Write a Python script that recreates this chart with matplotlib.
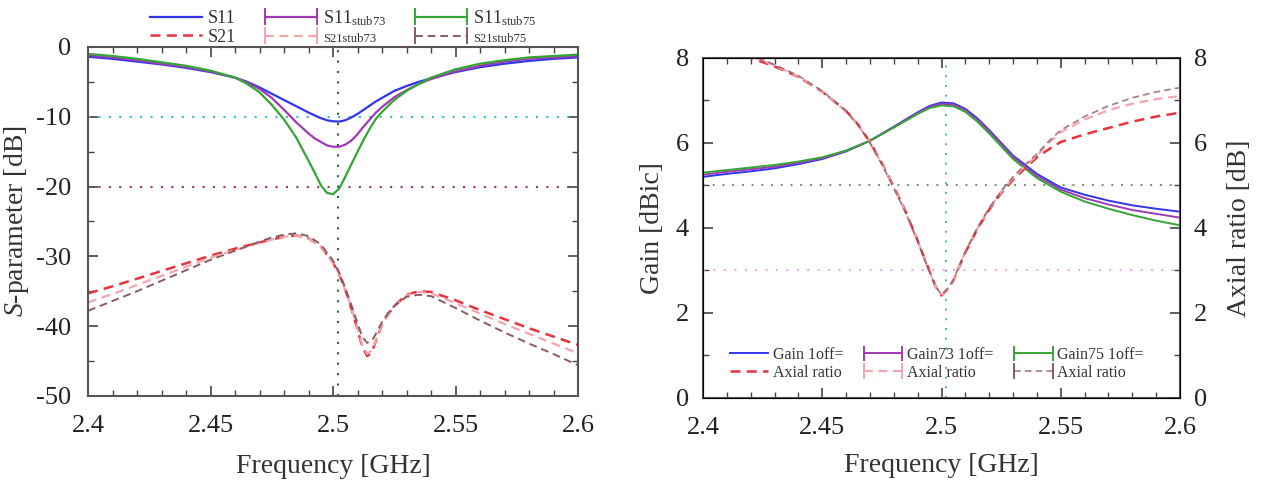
import numpy as np
import matplotlib
matplotlib.use('Agg')
import matplotlib.pyplot as plt
from matplotlib.lines import Line2D
from matplotlib.legend_handler import HandlerLine2D

plt.rcParams['font.family'] = ['Liberation Serif', 'DejaVu Serif']
plt.rcParams['mathtext.fontset'] = 'custom'
plt.rcParams['mathtext.rm'] = 'Liberation Serif'
plt.rcParams['mathtext.it'] = 'Liberation Serif:italic'
plt.rcParams['axes.unicode_minus'] = False

# ---- data ----
f_s11 = [2.40, 2.41, 2.42, 2.43, 2.44, 2.45, 2.46, 2.465, 2.47, 2.475, 2.48, 2.485,
         2.49, 2.4925, 2.495, 2.4975, 2.50, 2.5025, 2.505, 2.5075, 2.51, 2.5125,
         2.515, 2.5175, 2.52, 2.525, 2.53, 2.535, 2.54, 2.55, 2.56, 2.57, 2.58,
         2.59, 2.60]
s11 = [-1.4, -1.7, -2.1, -2.5, -3.0, -3.6, -4.4, -5.0, -5.8, -6.7, -7.6, -8.5,
       -9.4, -9.8, -10.2, -10.5, -10.65, -10.7, -10.5, -10.1, -9.6, -9.0,
       -8.4, -7.8, -7.3, -6.3, -5.6, -5.0, -4.5, -3.6, -2.9, -2.4, -2.0,
       -1.7, -1.5]
s11_stub73 = [-1.2, -1.5, -1.9, -2.4, -2.9, -3.5, -4.4, -5.1, -6.0, -7.3, -9.0, -10.8,
              -12.4, -13.1, -13.6, -14.1, -14.3, -14.3, -14.0, -13.4, -12.5, -11.4,
              -10.4, -9.4, -8.6, -7.2, -6.2, -5.3, -4.6, -3.5, -2.7, -2.1, -1.7,
              -1.5, -1.3]
s11_stub75 = [-1.0, -1.3, -1.7, -2.2, -2.7, -3.4, -4.4, -5.3, -6.5, -8.3, -10.4, -13.0,
              -16.3, -18.0, -19.8, -20.9, -21.1, -20.3, -18.6, -16.8, -15.0, -13.3,
              -11.7, -10.3, -9.3, -7.6, -6.3, -5.3, -4.4, -3.2, -2.4, -1.9, -1.5,
              -1.3, -1.1]

f_s21 = [2.40, 2.41, 2.42, 2.43, 2.44, 2.45, 2.46, 2.47, 2.475, 2.48, 2.485, 2.49,
         2.495, 2.50, 2.5025, 2.505, 2.5075, 2.51, 2.512, 2.514, 2.516, 2.518,
         2.52, 2.5225, 2.525, 2.53, 2.535, 2.54, 2.55, 2.56, 2.57, 2.58, 2.59, 2.60]
s21 = [-35.3, -34.3, -33.2, -32.1, -31.0, -29.9, -28.9, -28.0, -27.6, -27.2, -27.0, -27.4,
       -28.6, -30.9, -32.6, -34.8, -37.5, -40.5, -43.0, -44.3, -43.6, -41.6,
       -39.8, -38.3, -37.1, -35.5, -35.0, -35.1, -36.3, -37.7, -39.0, -40.3, -41.5, -42.7]
s21_stub73 = [-36.6, -35.4, -34.1, -32.8, -31.5, -30.2, -29.1, -28.1, -27.6, -27.2, -27.0, -27.4,
              -28.6, -30.9, -32.6, -34.8, -37.4, -40.3, -42.8, -44.0, -43.4, -41.5,
              -39.8, -38.3, -37.2, -35.6, -35.1, -35.3, -36.7, -38.2, -39.7, -41.1, -42.5, -43.9]
s21_stub75 = [-37.8, -36.4, -35.0, -33.5, -32.0, -30.5, -29.2, -27.9, -27.3, -26.9, -26.7, -27.1,
              -28.3, -30.6, -32.3, -34.5, -37.0, -39.6, -41.6, -42.4, -42.0, -40.8,
              -39.4, -38.1, -37.1, -35.8, -35.5, -35.7, -37.4, -39.2, -40.9, -42.5, -44.0, -45.6]

f_gain = [2.40, 2.41, 2.42, 2.43, 2.44, 2.45, 2.46, 2.47, 2.48, 2.49, 2.495, 2.50,
          2.505, 2.51, 2.515, 2.52, 2.525, 2.53, 2.54, 2.55, 2.56, 2.57, 2.58,
          2.59, 2.60]
gain = [5.20, 5.27, 5.33, 5.40, 5.50, 5.62, 5.80, 6.05, 6.38, 6.72, 6.87, 6.95,
        6.93, 6.80, 6.58, 6.30, 6.00, 5.70, 5.27, 4.95, 4.78, 4.64, 4.53,
        4.45, 4.38]
gain73 = [5.25, 5.32, 5.38, 5.44, 5.53, 5.64, 5.81, 6.05, 6.37, 6.70, 6.85, 6.92,
          6.90, 6.77, 6.55, 6.27, 5.97, 5.67, 5.22, 4.90, 4.70, 4.55, 4.42,
          4.33, 4.24]
gain75 = [5.30, 5.36, 5.42, 5.48, 5.56, 5.66, 5.82, 6.05, 6.36, 6.68, 6.82, 6.88,
          6.86, 6.73, 6.50, 6.22, 5.92, 5.62, 5.17, 4.85, 4.62, 4.45, 4.30,
          4.17, 4.06]

f_ar = [2.40, 2.41, 2.42, 2.43, 2.44, 2.45, 2.46, 2.465, 2.47, 2.475, 2.48, 2.485,
        2.49, 2.4925, 2.495, 2.4975, 2.50, 2.5025, 2.505, 2.5075, 2.51, 2.515,
        2.52, 2.525, 2.53, 2.535, 2.54, 2.545, 2.55, 2.56, 2.57, 2.58, 2.59, 2.60]
ar = [8.7, 8.35, 8.0, 7.8, 7.55, 7.2, 6.75, 6.43, 6.02, 5.52, 4.97, 4.38,
      3.7, 3.33, 2.98, 2.62, 2.41, 2.55, 2.76, 3.1, 3.42, 3.97,
      4.43, 4.82, 5.13, 5.4, 5.66, 5.85, 6.02, 6.2, 6.35, 6.5, 6.62, 6.71]
ar73 = [8.75, 8.4, 8.05, 7.82, 7.56, 7.2, 6.74, 6.42, 6.01, 5.5, 4.95, 4.36,
        3.69, 3.32, 2.97, 2.62, 2.42, 2.56, 2.77, 3.11, 3.43, 3.98,
        4.45, 4.85, 5.17, 5.45, 5.7, 6.0, 6.25, 6.55, 6.77, 6.92, 7.03, 7.1]
ar75 = [8.8, 8.45, 8.08, 7.84, 7.58, 7.22, 6.75, 6.42, 6.0, 5.49, 4.94, 4.35,
        3.68, 3.31, 2.96, 2.62, 2.43, 2.57, 2.78, 3.12, 3.44, 4.0,
        4.47, 4.87, 5.2, 5.48, 5.74, 6.04, 6.3, 6.62, 6.87, 7.06, 7.2, 7.3]

f_marker = 2.502

c_blue = '#3434ee'
c_purple = '#a03ab4'
c_green = '#35a535'
c_red = '#e8323c'
c_pink = '#f5a5ad'
c_brown = '#8a5a5e'


class CapHandler(HandlerLine2D):
    # legend line with small vertical end caps
    def create_artists(self, legend, orig_handle, xdescent, ydescent, width, height, fontsize, trans):
        arts = super().create_artists(legend, orig_handle, xdescent, ydescent, width, height, fontsize, trans)
        y0 = (height - ydescent) / 2
        for xx in (-xdescent, -xdescent + width):
            cap = Line2D([xx, xx], [y0 - 0.6 * height, y0 + 0.6 * height],
                         color=orig_handle.get_color(), lw=1.4, transform=trans)
            arts.append(cap)
        return arts


def style_axes(ax):
    for sp in ax.spines.values():
        sp.set_color('#555555')
        sp.set_linewidth(1.5)
    ax.tick_params(which='both', direction='in', top=True, right=True, colors='#444444',
                   labelcolor='#222222')
    ax.tick_params(which='major', length=7, width=1.2)
    ax.tick_params(which='minor', length=4, width=1.0)


fig = plt.figure(figsize=(12.61, 4.87), dpi=100)

# ---------------- left: S-parameters ----------------
ax1 = fig.add_axes([0.0698, 0.187, 0.3886, 0.7166])
ax1.axhline(-10, color='#3ab6d6', ls=(0, (1, 4)), lw=1.5)
ax1.axhline(-20, color='#a0306a', ls=(0, (1, 4)), lw=1.5)
ax1.axvline(f_marker, color='#2a6a3a', ls=(0, (1, 4)), lw=1.5)

l1, = ax1.plot(f_s11, s11, color=c_blue, lw=1.6)
l2, = ax1.plot(f_s11, s11_stub73, color=c_purple, lw=1.6)
l3, = ax1.plot(f_s11, s11_stub75, color=c_green, lw=1.6)
l4, = ax1.plot(f_s21, s21, color=c_red, lw=1.8, ls=(0, (4, 2.5)))
l5, = ax1.plot(f_s21, s21_stub73, color=c_pink, lw=1.6, ls=(0, (4, 2.5)))
l6, = ax1.plot(f_s21, s21_stub75, color=c_brown, lw=1.4, ls=(0, (4, 2.5)))

ax1.set_xlim(2.4, 2.6)
ax1.set_ylim(-50, 0)
ax1.set_xticks(np.arange(2.4, 2.6001, 0.05))
ax1.set_xticklabels(['2.4', '2.45', '2.5', '2.55', '2.6'])
ax1.set_xticks(np.arange(2.4, 2.6001, 0.01), minor=True)
ax1.set_yticks(np.arange(-50, 1, 10))
ax1.set_yticks(np.arange(-50, 1, 5), minor=True)
style_axes(ax1)
ax1.tick_params(axis='both', labelsize=19)
ax1.tick_params(axis='x', pad=14)
ax1.tick_params(axis='y', pad=12)
ax1.set_xlabel('Frequency [GHz]', fontsize=20, color='#333333', labelpad=12)
ax1.set_ylabel('$S$-parameter [dB]', fontsize=20, color='#333333', labelpad=4)

leg1 = fig.legend([l1, l4, l2, l5, l3, l6],
                  ['S11', 'S21', 'S11$_{\\mathrm{stub73}}$', 'S21stub73',
                   'S11$_{\\mathrm{stub75}}$', 'S21stub75'],
                  ncol=3, loc='center', bbox_to_anchor=(0.272, 0.945), frameon=False,
                  fontsize=13, handlelength=2.9, columnspacing=1.6, handletextpad=0.3,
                  labelspacing=0.1,
                  handler_map={l2: CapHandler(), l3: CapHandler(), l5: CapHandler(), l6: CapHandler()})
for t in leg1.get_texts():
    t.set_color('#333333')
leg1.get_texts()[3].set_fontsize(9)
leg1.get_texts()[5].set_fontsize(9)

# ---------------- right: gain & axial ratio ----------------
ax2 = fig.add_axes([0.5575, 0.183, 0.3783, 0.6982])
ax2.axhline(5, color='#6f8f6f', ls=(0, (1, 4)), lw=1.4)
ax2.axhline(3, color='#f0a8f0', ls=(0, (1, 4)), lw=1.5)
ax2.axvline(f_marker, color='#5aaec8', ls=(0, (1, 4)), lw=1.4)

g1, = ax2.plot(f_gain, gain, color=c_blue, lw=1.4)
g2, = ax2.plot(f_gain, gain73, color=c_purple, lw=1.4)
g3, = ax2.plot(f_gain, gain75, color=c_green, lw=1.4)

ax3 = ax2.twinx()
a1, = ax3.plot(f_ar, ar, color=c_red, lw=1.8, ls=(0, (4, 2.5)))
a2, = ax3.plot(f_ar, ar73, color=c_pink, lw=1.6, ls=(0, (4, 2.5)))
a3, = ax3.plot(f_ar, ar75, color=c_brown, lw=1.2, ls=(0, (4, 2.5)), alpha=0.8)

for ax in (ax2, ax3):
    ax.set_xlim(2.4, 2.6)
    ax.set_ylim(0, 8)
    ax.set_yticks(np.arange(0, 9, 2))
    ax.set_yticks(np.arange(0, 9, 1), minor=True)
ax2.set_xticks(np.arange(2.4, 2.6001, 0.05))
ax2.set_xticklabels(['2.4', '2.45', '2.5', '2.55', '2.6'])
ax2.set_xticks(np.arange(2.4, 2.6001, 0.01), minor=True)
style_axes(ax2)
ax2.tick_params(axis='y', right=False, which='both')
ax3.tick_params(which='both', direction='in', colors='#444444', labelcolor='#222222')
ax3.tick_params(which='major', length=7, width=1.2)
ax3.tick_params(which='minor', length=4, width=1.0)
ax2.tick_params(axis='both', labelsize=19)
ax2.tick_params(axis='x', pad=14)
ax2.tick_params(axis='y', pad=10)
ax3.tick_params(axis='y', labelsize=19, pad=10)
ax2.set_xlabel('Frequency [GHz]', fontsize=20, color='#333333', labelpad=10)
ax2.set_ylabel('Gain [dBic]', fontsize=20, color='#333333', labelpad=8)
ax3.set_ylabel('Axial ratio [dB]', fontsize=20, color='#333333', labelpad=14)

leg2 = ax3.legend([g1, a1, g2, a2, g3, a3],
                  ['Gain 1off=', 'Axial ratio', 'Gain73 1off=', 'Axial ratio',
                   'Gain75 1off=', 'Axial ratio'],
                  ncol=3, loc='center', bbox_to_anchor=(0.49, 0.1), frameon=False,
                  fontsize=11.5, handlelength=2.4, columnspacing=1.3, handletextpad=0.3,
                  labelspacing=0.1,
                  handler_map={g2: CapHandler(), g3: CapHandler(), a2: CapHandler(), a3: CapHandler()})
for t in leg2.get_texts():
    t.set_color('#333333')

fig.savefig('out.png', dpi=100)
